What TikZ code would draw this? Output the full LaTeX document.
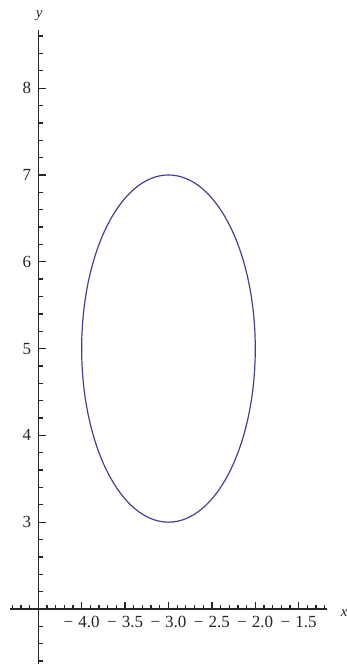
\documentclass[tikz,border=0pt]{standalone}
\usepackage{fontspec}
\setmainfont{Liberation Serif}
\definecolor{curvecol}{rgb}{0.26,0.26,0.58}
\definecolor{axisgray}{gray}{0.15}
\begin{document}
\begin{tikzpicture}[x=86.8pt,y=86.8pt,
  axisline/.style={draw=axisgray,line width=1.5pt},
  tickline/.style={draw=axisgray,line width=1.3pt},
  ticklab/.style={font=\fontsize{17}{17}\selectfont,text=axisgray,inner sep=0pt},
  axislab/.style={font=\fontsize{15}{15}\selectfont\itshape,text=axisgray,inner sep=0pt}]
\useasboundingbox (-4.941,1.366) rectangle (-0.944,9.016);
\coordinate (xl) at (-4.825,2);
\coordinate (xr) at (-1.17,2);
\coordinate (yb) at (-4.5,1.366);
\coordinate (yt) at (-4.5,8.67);
\draw[axisline] (xl) -- (xr);
\draw[axisline] (yb) -- (yt);
% x ticks
\foreach \i in {-48,...,-12}{
  \draw[tickline] (\i/10,2) -- ++(0,4pt);
}
\foreach \v/\t in {-4.0/4.0,-3.5/3.5,-3.0/3.0,-2.5/2.5,-2.0/2.0,-1.5/1.5}{
  \draw[tickline] (\v,2) -- ++(0,7pt);
  \node[ticklab] (xt\t) at ([yshift=-13pt]\v,2) {{\char"2212}\hspace{0.3em}\t};
}
% y ticks
\foreach \j in {7,...,43}{
  \draw[tickline] (-4.5,\j/5) -- ++(5pt,0);
}
\foreach \v in {3,...,8}{
  \draw[tickline] (-4.5,\v) -- ++(8pt,0);
  \node[ticklab,anchor=east] (yt\v) at ([xshift=-7pt]-4.5,\v) {\v};
}
\node[axislab] (ylab) at (-4.49,8.832) {y};
\node[axislab] (xlab) at (-0.975,1.955) {x};
% ellipse
\draw[curvecol,line width=1.2pt] (-3,5) ellipse [x radius=1, y radius=2];
\end{tikzpicture}
\end{document}
